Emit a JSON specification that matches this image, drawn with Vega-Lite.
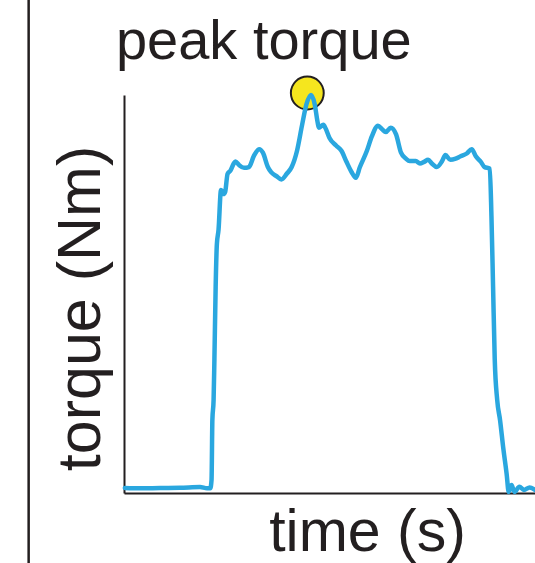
{
  "$schema": "https://vega.github.io/schema/vega-lite/v6.json",
  "width": 411,
  "height": 398,
  "autosize": "none",
  "padding": {"left": 124, "top": 95, "right": 0, "bottom": 70},
  "background": "white",
  "config": {
    "view": {"stroke": null},
    "axis": {"ticks": false, "labels": false, "grid": false, "domainColor": "#231f20", "domainWidth": 2, "titleFont": "Liberation Sans", "titleFontWeight": "normal", "titleColor": "#231f20"}
  },
  "datasets": {
    "trace": [
      {"time": 0.02, "torque": 1.26}, {"time": 0.39, "torque": 1.18}, {"time": 0.88, "torque": 1.26}, {"time": 1.36, "torque": 1.31},
      {"time": 1.85, "torque": 1.51}, {"time": 2.02, "torque": 1.18}, {"time": 2.1, "torque": 1.18}, {"time": 2.13, "torque": 3.3},
      {"time": 2.15, "torque": 18.3}, {"time": 2.18, "torque": 23.4}, {"time": 2.2, "torque": 33.7}, {"time": 2.23, "torque": 51.8},
      {"time": 2.26, "torque": 62.6}, {"time": 2.3, "torque": 66.1}, {"time": 2.36, "torque": 76.1}, {"time": 2.42, "torque": 75.1},
      {"time": 2.46, "torque": 75.6}, {"time": 2.52, "torque": 80.2}, {"time": 2.59, "torque": 81.0}, {"time": 2.67, "torque": 82.8},
      {"time": 2.71, "torque": 83.3}, {"time": 2.8, "torque": 82.4}, {"time": 2.92, "torque": 81.7}, {"time": 3.04, "torque": 81.9},
      {"time": 3.16, "torque": 84.7}, {"time": 3.29, "torque": 86.4}, {"time": 3.38, "torque": 85.5}, {"time": 3.5, "torque": 81.9},
      {"time": 3.58, "torque": 80.6}, {"time": 3.71, "torque": 79.6}, {"time": 3.83, "torque": 78.8}, {"time": 3.96, "torque": 80.2},
      {"time": 4.08, "torque": 81.9}, {"time": 4.21, "torque": 86.0}, {"time": 4.33, "torque": 92.3}, {"time": 4.44, "torque": 97.7},
      {"time": 4.55, "torque": 100.0}, {"time": 4.64, "torque": 97.7}, {"time": 4.71, "torque": 93.2}, {"time": 4.74, "torque": 91.8},
      {"time": 4.85, "torque": 92.5}, {"time": 4.91, "torque": 91.5}, {"time": 5.0, "torque": 89.2}, {"time": 5.16, "torque": 87.3},
      {"time": 5.29, "torque": 86.0}, {"time": 5.41, "torque": 83.3}, {"time": 5.54, "torque": 80.6}, {"time": 5.64, "torque": 79.2},
      {"time": 5.74, "torque": 81.9}, {"time": 5.91, "torque": 86.0}, {"time": 6.03, "torque": 89.6}, {"time": 6.18, "torque": 92.3},
      {"time": 6.28, "torque": 91.4}, {"time": 6.37, "torque": 90.7}, {"time": 6.49, "torque": 91.8}, {"time": 6.62, "torque": 90.1},
      {"time": 6.74, "torque": 85.5}, {"time": 6.86, "torque": 84.0}, {"time": 6.95, "torque": 83.4}, {"time": 7.1, "torque": 83.4},
      {"time": 7.2, "torque": 82.8}, {"time": 7.3, "torque": 83.2}, {"time": 7.4, "torque": 83.7}, {"time": 7.49, "torque": 82.8},
      {"time": 7.61, "torque": 81.9}, {"time": 7.74, "torque": 83.4}, {"time": 7.82, "torque": 84.9}, {"time": 7.94, "torque": 83.7},
      {"time": 8.07, "torque": 84.0}, {"time": 8.19, "torque": 84.6}, {"time": 8.34, "torque": 85.3}, {"time": 8.46, "torque": 86.4},
      {"time": 8.56, "torque": 84.6}, {"time": 8.69, "torque": 83.1}, {"time": 8.77, "torque": 81.9}, {"time": 8.9, "torque": 81.5},
      {"time": 8.94, "torque": 69.7}, {"time": 8.98, "torque": 51.8}, {"time": 9.02, "torque": 33.7}, {"time": 9.08, "torque": 23.4},
      {"time": 9.15, "torque": 18.3}, {"time": 9.23, "torque": 11.1}, {"time": 9.31, "torque": 4.8}, {"time": 9.36, "torque": 0.25},
      {"time": 9.43, "torque": 2.0}, {"time": 9.5, "torque": 0.25}, {"time": 9.62, "torque": 1.6}, {"time": 9.73, "torque": 0.75},
      {"time": 9.87, "torque": 1.4}, {"time": 10.0, "torque": 0.75}
    ],
    "peak": [{"time": 4.46, "torque": 100.5, "label": "peak torque"}],
    "border": [{"time": -2.32, "torque": -18, "torque2": 124}]
  },
  "layer": [
    {
      "data": {"name": "border"},
      "mark": {"type": "rule", "clip": false, "color": "#231f20", "strokeWidth": 2.5},
      "encoding": {
        "x": {"field": "time", "type": "quantitative", "scale": {"domain": [0, 10], "nice": false, "zero": false},
              "axis": {"title": "time (s)", "titleFontSize": 59, "titleX": 243, "titleY": 57, "titleBaseline": "alphabetic", "titleAlign": "center"}},
        "y": {"field": "torque", "type": "quantitative", "scale": {"domain": [0, 100], "nice": false, "zero": false},
              "axis": {"title": "torque (Nm)", "titleFontSize": 61, "titleX": -25, "titleY": 213, "titleAngle": 270, "titleBaseline": "alphabetic", "titleAlign": "center"}},
        "y2": {"field": "torque2"}
      }
    },
    {
      "data": {"name": "peak"},
      "mark": {"type": "point", "shape": "circle", "filled": true, "fill": "#f5e61e", "stroke": "#231f20", "strokeWidth": 2, "size": 1080, "opacity": 1, "clip": false},
      "encoding": {
        "x": {"field": "time", "type": "quantitative", "title": "time (s)"},
        "y": {"field": "torque", "type": "quantitative", "title": "torque (Nm)"}
      }
    },
    {
      "data": {"name": "trace"},
      "mark": {"type": "line", "color": "#2aa7df", "strokeWidth": 4.5, "interpolate": "monotone", "strokeJoin": "round", "strokeCap": "round", "clip": false},
      "encoding": {
        "x": {"field": "time", "type": "quantitative", "title": "time (s)"},
        "y": {"field": "torque", "type": "quantitative", "title": "torque (Nm)"}
      }
    },
    {
      "data": {"name": "peak"},
      "mark": {"type": "text", "font": "Liberation Sans", "fontSize": 56, "dx": -43.5, "dy": -34, "baseline": "alphabetic", "align": "center", "color": "#231f20", "clip": false},
      "encoding": {
        "x": {"field": "time", "type": "quantitative", "title": "time (s)"},
        "y": {"field": "torque", "type": "quantitative", "title": "torque (Nm)"},
        "text": {"field": "label"}
      }
    }
  ]
}
